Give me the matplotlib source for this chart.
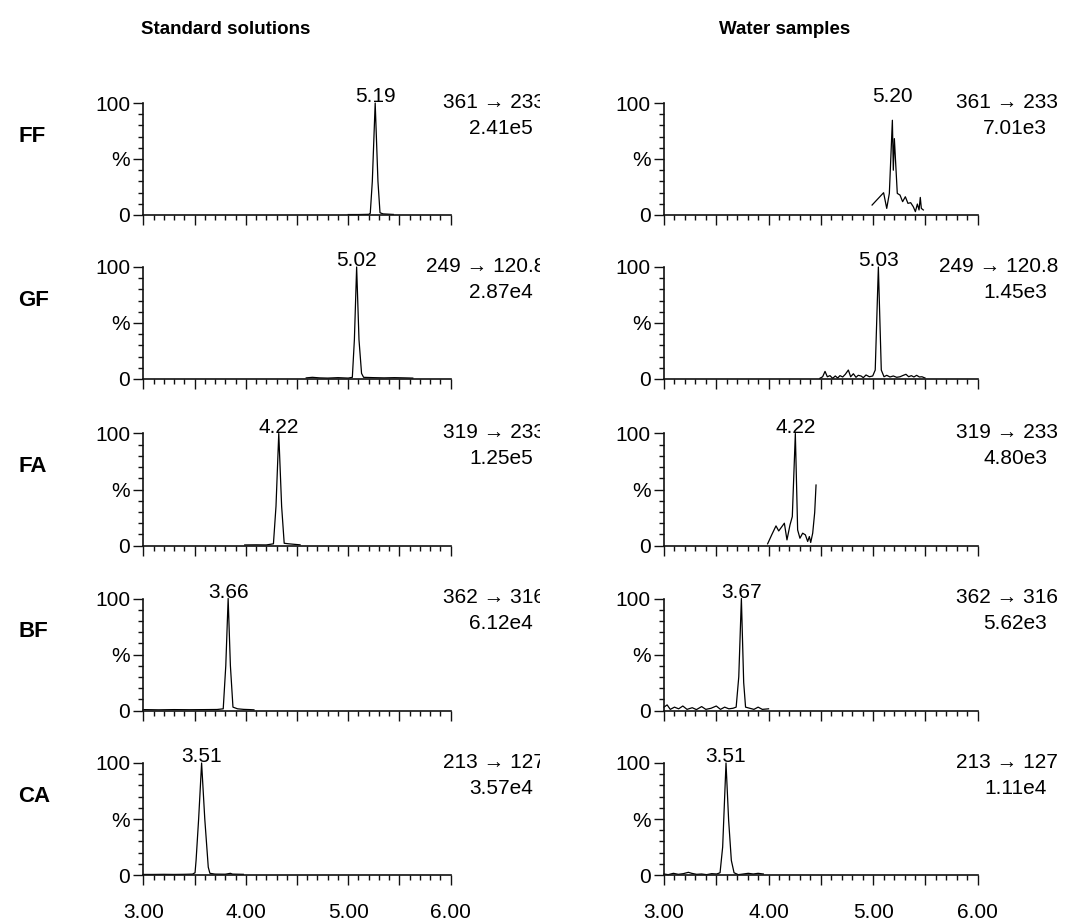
import matplotlib
matplotlib.use('Agg')
import matplotlib.pyplot as plt
from matplotlib.ticker import MultipleLocator, FixedLocator, FixedFormatter
from matplotlib.transforms import Bbox, TransformedBbox

plt.rcParams['font.family'] = ['Liberation Sans', 'DejaVu Sans']

compounds = ['FF', 'GF', 'FA', 'BF', 'CA']
transitions = ['361 → 233', '249 → 120.8', '319 → 233', '362 → 316', '213 → 127']
std_intensity = ['2.41e5', '2.87e4', '1.25e5', '6.12e4', '3.57e4']
water_intensity = ['7.01e3', '1.45e3', '4.80e3', '5.62e3', '1.11e4']
std_rt_labels = ['5.19', '5.02', '4.22', '3.66', '3.51']
water_rt_labels = ['5.20', '5.03', '4.22', '3.67', '3.51']
x_ticks = [3.0, 3.5, 4.0, 4.5, 5.0, 5.5, 6.0]
x_tick_labels = ['3.00', '', '4.00', '', '5.00', '', '6.00']

# standard solutions (time / min, relative intensity / %)
std_ff_t = [5.00, 5.10, 5.20, 5.215, 5.235, 5.263, 5.29, 5.31, 5.34, 5.40, 5.44]
std_ff_i = [0.4, 0.4, 0.6, 1.5, 30, 100, 30, 2, 1, 0.7, 0.5]
std_gf_t = [4.59, 4.65, 4.72, 4.80, 4.90, 5.00, 5.04, 5.06, 5.082, 5.105, 5.13, 5.15, 5.25, 5.35, 5.45, 5.55, 5.63]
std_gf_i = [1, 1.5, 1, 0.8, 1.2, 0.8, 1.5, 35, 100, 35, 5, 1.5, 1.2, 1, 1.2, 1, 0.8]
std_fa_t = [3.99, 4.10, 4.20, 4.27, 4.295, 4.322, 4.35, 4.375, 4.42, 4.48, 4.53]
std_fa_i = [0.5, 0.6, 0.5, 1.5, 35, 100, 35, 2, 1.5, 1, 0.6]
std_bf_t = [3.00, 3.15, 3.30, 3.45, 3.60, 3.72, 3.78, 3.805, 3.828, 3.85, 3.875, 3.92, 3.98, 4.04, 4.08]
std_bf_i = [0.8, 0.6, 0.8, 0.7, 0.8, 0.9, 1.5, 40, 100, 40, 3, 1.5, 1, 0.8, 0.6]
std_ca_t = [3.00, 3.10, 3.20, 3.30, 3.40, 3.48, 3.505, 3.515, 3.54, 3.569, 3.60, 3.634, 3.65, 3.70, 3.80, 3.85, 3.87, 3.92, 3.976]
std_ca_i = [0.5, 0.5, 0.6, 0.5, 0.6, 0.8, 2, 13, 50, 100, 50, 7, 1.5, 0.8, 0.7, 1.5, 0.8, 0.7, 0.6]

# water samples
wat_ff_t = [4.99, 5.10, 5.13, 5.155, 5.184, 5.193, 5.203, 5.231, 5.257, 5.282, 5.308, 5.333, 5.359,
            5.384, 5.404, 5.423, 5.439, 5.451, 5.461, 5.48]
wat_ff_i = [8.9, 19.9, 5.9, 19.3, 84.6, 40, 68.2, 19.3, 17.8, 11.9, 16.3, 10.4, 11,
            7.4, 3, 9.8, 4.5, 15.7, 5.9, 4.5]
wat_gf_t = [4.49, 4.517, 4.54, 4.562, 4.587, 4.613, 4.638, 4.661, 4.683, 4.709, 4.734, 4.763, 4.785,
            4.811, 4.836, 4.858, 4.884, 4.906, 4.932, 4.964, 4.996, 5.02, 5.05, 5.078, 5.104, 5.13,
            5.161, 5.193, 5.225, 5.257, 5.289, 5.314, 5.34, 5.365, 5.39, 5.416, 5.442, 5.467, 5.496]
wat_gf_i = [0.6, 2, 6.8, 2, 3, 0.6, 2.7, 0.9, 3, 1.8, 4.2, 8, 2,
            4.7, 1.5, 3.3, 2.7, 1.2, 3.6, 2, 2.7, 8, 100, 8, 2, 3.3,
            1.8, 2.7, 1.5, 2, 3.3, 4.2, 2, 3, 1.8, 3.3, 1.8, 2, 0.9]
wat_fa_t = [3.991, 4.03, 4.071, 4.097, 4.116, 4.151, 4.176, 4.205, 4.227, 4.256, 4.278, 4.30,
            4.326, 4.352, 4.374, 4.39, 4.403, 4.422, 4.441, 4.454]
wat_fa_i = [1.5, 9.5, 17.5, 13, 15.4, 19.9, 5, 18.4, 25.8, 100, 13.9, 6.5,
            11, 9.5, 3.6, 8, 2.7, 11, 29.4, 54]
wat_bf_t = [3.00, 3.03, 3.06, 3.10, 3.14, 3.18, 3.22, 3.27, 3.31, 3.36, 3.40, 3.45, 3.50, 3.54,
            3.58, 3.62, 3.66, 3.69, 3.715, 3.74, 3.762, 3.78, 3.82, 3.86, 3.90, 3.94, 4.00]
wat_bf_i = [3, 5, 1, 3, 1.5, 4, 1, 2.5, 0.8, 3.5, 1, 2, 4, 1,
            3, 1.5, 2, 3, 30, 100, 25, 3, 2, 1, 3, 1, 1.5]
wat_ca_t = [3.00, 3.04, 3.09, 3.137, 3.185, 3.233, 3.265, 3.312, 3.36, 3.408, 3.456, 3.504, 3.536,
            3.561, 3.593, 3.618, 3.644, 3.67, 3.71, 3.759, 3.806, 3.854, 3.90, 3.95]
wat_ca_i = [0.9, 0.3, 1.5, 0.6, 1.2, 2.4, 1.5, 0.6, 0.9, 0.3, 1.2, 0.9, 2,
            25, 100, 49, 13, 2, 0.3, 0.9, 1.5, 0.9, 1.5, 0.9]

std_traces = [(std_ff_t, std_ff_i), (std_gf_t, std_gf_i), (std_fa_t, std_fa_i),
              (std_bf_t, std_bf_i), (std_ca_t, std_ca_i)]
wat_traces = [(wat_ff_t, wat_ff_i), (wat_gf_t, wat_gf_i), (wat_fa_t, wat_fa_i),
              (wat_bf_t, wat_bf_i), (wat_ca_t, wat_ca_i)]

W, H = 1069, 921
fig = plt.figure(figsize=(W / 100, H / 100), dpi=100, facecolor='white')

row_tops = [103, 267, 433.5, 598.5, 763]   # pixel rows of the 100 % line
ax_h = 112
cols = [(143.3, 307.4), (664, 313.7)]      # left, width in pixels
# right edges of the two header lines per column (pixels)
hdr_right = [(545, 533), (1058, 1047)]

# left column text is cut at the panel border like in the original
clip = TransformedBbox(Bbox([[0, 0], [540 / W, 1]]), fig.transFigure)


def style_axes(ax, bottom):
    ax.set_xlim(3, 6)
    ax.set_ylim(0, 100)
    ax.spines['top'].set_visible(False)
    ax.spines['right'].set_visible(False)
    for s in ['left', 'bottom']:
        ax.spines[s].set_linewidth(1.2)
        ax.spines[s].set_color('#111111')
    ax.xaxis.set_major_locator(FixedLocator(x_ticks))
    ax.xaxis.set_minor_locator(MultipleLocator(0.1))
    ax.yaxis.set_major_locator(FixedLocator([0, 50, 100]))
    ax.yaxis.set_major_formatter(FixedFormatter(['0', '%', '100']))
    ax.yaxis.set_minor_locator(MultipleLocator(10))
    ax.tick_params(which='major', length=7.5, width=1, direction='out',
                   labelsize=15, pad=2, color='#111111')
    ax.tick_params(which='minor', length=3.5, width=1, direction='out', color='#111111')
    if bottom:
        ax.xaxis.set_major_formatter(FixedFormatter(x_tick_labels))
        ax.tick_params(axis='x', which='major', pad=13)
    else:
        ax.tick_params(axis='x', labelbottom=False)


for c, (traces, rt_labels, intens) in enumerate([(std_traces, std_rt_labels, std_intensity),
                                                  (wat_traces, water_rt_labels, water_intensity)]):
    left, width = cols[c]
    for r in range(5):
        top = row_tops[r]
        ax = fig.add_axes([left / W, 1 - (top + ax_h) / H, width / W, ax_h / H])
        style_axes(ax, r == 4)
        t, i = traces[r]
        ax.plot(t, i, color='black', lw=0.9, clip_on=False)
        k = i.index(max(i))
        ax.annotate(rt_labels[r], (t[k], 100), xytext=(0, 4.5), textcoords='offset points',
                    ha='center', va='center', fontsize=15, annotation_clip=False)

        r1, r2 = hdr_right[c]
        t1 = fig.text(r1 / W, 1 - (top - 1) / H, transitions[r], ha='right', va='center', fontsize=15)
        t2 = fig.text(r2 / W, 1 - (top + 25) / H, intens[r], ha='right', va='center', fontsize=15)
        if c == 0:
            for tx in (t1, t2):
                tx.set_clip_box(clip)
                tx.set_clip_on(True)
            fig.text(18 / W, 1 - (top + 33) / H, compounds[r], ha='left', va='center',
                     fontsize=16, fontweight='bold')

fig.text(226 / W, 1 - 30 / H, 'Standard solutions', ha='center', va='center',
         fontsize=13.5, fontweight='bold')
fig.text(785 / W, 1 - 30 / H, 'Water samples', ha='center', va='center',
         fontsize=13.5, fontweight='bold')

fig.savefig('out.png', dpi=100, facecolor='white')
